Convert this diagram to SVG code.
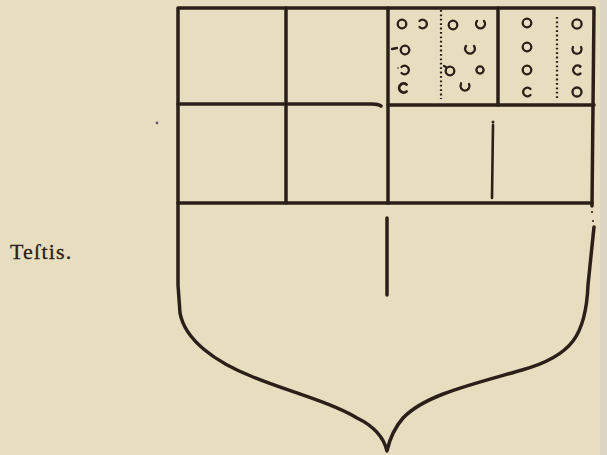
<svg xmlns="http://www.w3.org/2000/svg" width="607" height="455" viewBox="0 0 607 455">
<style>
.ln{fill:none;stroke:#2a2019;stroke-width:3.5;stroke-linecap:round;stroke-linejoin:round}
.thin{fill:none;stroke:#2a2019;stroke-width:2.6;stroke-linecap:round}
.ring{fill:none;stroke:#2a2019;stroke-width:2.3;stroke-linecap:round}
.dots{fill:none;stroke:#2a2019;stroke-width:2.2;stroke-dasharray:1.8 2.6}
.txt{font-family:"Liberation Serif","DejaVu Serif",serif;font-size:22px;fill:#2a2019;stroke:#2a2019;stroke-width:0.3;letter-spacing:1.2px}
</style>
<rect width="607" height="455" fill="#e7dec0"/>
<rect x="600" y="0" width="7" height="455" fill="#dcd6c4"/>
<text class="txt" x="10" y="259">Teſtis.</text>
<circle cx="157" cy="123" r="1.4" fill="#6e5a6a"/>
<g id="shield">
<path class="ln" d="M594,227 L588,285 C586,335 572,356 522,370 C470,385 425,395 403,418 Q391,432 387,451 Q382,430 357,418 C330,402 290,392 253,377 C215,362 185,340 180,313 L178,285 L178,8 L594,8 L592,206"/>
<circle cx="592" cy="212" r="1.1" fill="#2a2019"/>
<circle cx="593" cy="221" r="1" fill="#2a2019"/>
</g>
<g id="divisions">
<path class="ln" d="M178,104 L372,104 Q378,104 381,106"/>
<path class="ln" d="M388,105 L594,105"/>
<path class="ln" d="M178,203 L592,203"/>
<path class="ln" d="M286,8 L286,203"/>
<path class="ln" d="M388,8 L388,203"/>
<path class="ln" d="M498,8 L498,105"/>
<path class="thin" d="M493,125 L492,198"/>
<circle cx="493" cy="122" r="1.5" fill="#2a2019"/>
<path class="ln" d="M387,218 L387,295"/>
</g>
<g id="cell3">
<line class="dots" x1="441" y1="10" x2="441" y2="99"/>
<circle class="ring" cx="402" cy="24" r="4.3"/>
<path class="ring" d="M419.5,21 A4.3,4.3 0 1 1 419.5,27"/>
<circle class="ring" cx="453" cy="25" r="4.3"/>
<path class="ring" d="M477,21 A4.5,4.5 0 1 0 484,21"/>
<line class="ring" x1="392" y1="49" x2="397" y2="48"/>
<circle class="ring" cx="405" cy="50" r="4.3"/>
<path class="ring" d="M466,46 A4.8,4.8 0 1 0 474,46"/>
<path class="ring" d="M401.5,67 A4.3,4.3 0 1 1 401.5,73"/>
<circle cx="398" cy="68" r="0.8" fill="#2a2019"/>
<circle cx="450" cy="71" r="4.3" class="ring"/>
<line class="ring" x1="444" y1="66" x2="446" y2="67"/>
<circle class="ring" cx="480" cy="70" r="3.6"/>
<path class="ring" d="M406.5,84.5 A4.5,4.5 0 1 0 406.5,91.5" style="stroke-width:2.8"/>
<path class="ring" d="M461,84 A4.5,4.5 0 1 0 469,84"/>
<circle cx="461" cy="83" r="0.9" fill="#2a2019"/>
</g>
<g id="cell4">
<line class="dots" x1="557" y1="17" x2="557" y2="100"/>
<circle class="ring" cx="527" cy="23" r="4.3"/>
<circle class="ring" cx="527" cy="47" r="4.3"/>
<circle class="ring" cx="527" cy="70" r="4.3"/>
<path class="ring" d="M530.5,89 A4.3,4.3 0 1 0 530.5,95"/>
<circle class="ring" cx="577" cy="24" r="4.6"/>
<path class="ring" d="M573,47 A4.6,4.6 0 1 0 581,47"/>
<path class="ring" d="M580.5,66.5 A4.5,4.5 0 1 0 580.5,73.5"/>
<circle cx="580" cy="67" r="0.9" fill="#2a2019"/>
<circle class="ring" cx="577" cy="92" r="4.5"/>
</g>
</svg>
